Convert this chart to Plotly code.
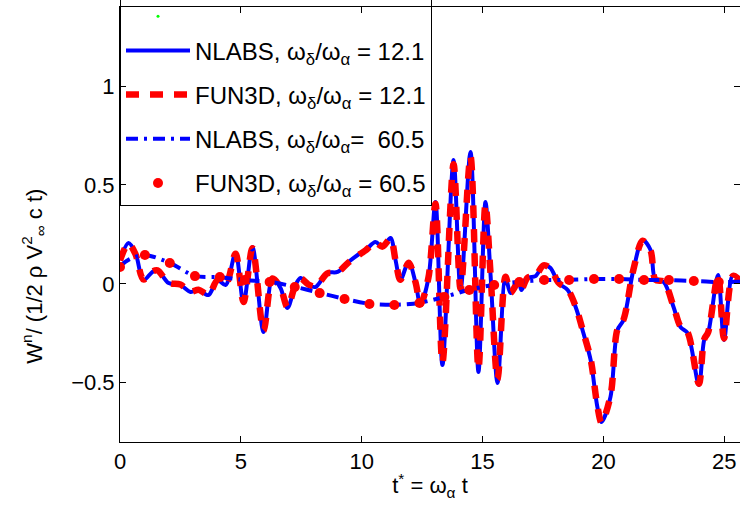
import plotly.graph_objects as go

# Normalised work per cycle vs reduced time, two flap-frequency cases
t_121 = [0.0, 0.35, 0.64, 0.97, 1.34, 1.55, 2.01, 2.50, 2.92, 3.25,
         3.66, 4.03, 4.37, 4.78, 5.11, 5.48, 5.94, 6.31, 6.64, 6.93,
         7.26, 7.47, 7.80, 8.09, 8.58, 9.00, 9.45, 9.95, 10.16, 10.57,
         10.86, 11.19, 11.40, 11.60, 11.94, 12.23, 12.43, 12.76, 13.05, 13.34,
         13.80, 14.09, 14.50, 14.83, 15.12, 15.33, 15.62, 15.95, 16.16, 16.49,
         16.61, 16.86, 17.19, 17.52, 17.81, 18.14, 18.52, 18.85, 19.17, 19.47,
         19.75, 19.92, 20.29, 20.58, 20.83, 21.24, 21.62, 21.95, 22.15, 22.49,
         22.90, 23.19, 23.48, 23.95, 24.17, 24.33, 24.74, 24.99, 25.36, 25.70]

w_nlabs_121 = [0.120, 0.206, 0.156, 0.019, 0.060, 0.070, 0.004, -0.006, -0.041, -0.031,
               -0.057, 0.019, -0.006, 0.156, -0.097, 0.186, -0.244, 0.029, -0.021, -0.122,
               -0.006, 0.029, -0.006, -0.016, 0.055, 0.060, 0.110, 0.156, 0.171, 0.211,
               0.186, 0.232, 0.120, 0.019, 0.110, 0.004, -0.107, 0.029, 0.414, -0.411,
               0.626, -0.031, 0.667, -0.446, 0.414, 0.045, -0.502, 0.034, -0.047, 0.009,
               -0.031, 0.029, 0.039, 0.095, 0.080, 0.004, -0.031, -0.117, -0.249, -0.385,
               -0.623, -0.699, -0.573, -0.234, -0.183, 0.070, 0.222, 0.171, 0.019, 0.009,
               -0.117, -0.219, -0.249, -0.512, -0.284, -0.249, 0.045, -0.284, 0.045, 0.009]

w_fun3d_121 = [0.118, 0.204, 0.150, 0.022, 0.062, 0.068, 0.006, -0.004, -0.040, -0.030,
               -0.055, 0.017, -0.004, 0.152, -0.092, 0.180, -0.236, 0.027, -0.019, -0.118,
               -0.004, 0.027, -0.004, -0.014, 0.053, 0.058, 0.108, 0.152, 0.169, 0.208,
               0.188, 0.228, 0.118, 0.021, 0.106, 0.006, -0.102, 0.031, 0.405, -0.398,
               0.605, -0.025, 0.645, -0.430, 0.402, 0.048, -0.482, 0.036, -0.044, 0.011,
               -0.028, 0.031, 0.041, 0.093, 0.078, 0.006, -0.029, -0.114, -0.246, -0.380,
               -0.618, -0.702, -0.568, -0.230, -0.181, 0.072, 0.218, 0.168, 0.021, 0.011,
               -0.114, -0.216, -0.246, -0.505, -0.280, -0.246, 0.042, -0.276, 0.040, 0.010]

t_605_nlabs = [0.0, 0.40, 1.03, 2.06, 3.10, 4.13, 5.16, 6.19, 7.23, 8.26,
               9.29, 10.32, 11.35, 12.39, 13.42, 14.45, 15.48, 16.52, 17.55, 18.58,
               19.61, 20.65, 21.68, 22.71, 23.74, 24.77, 25.70]
w_nlabs_605 = [0.090, 0.125, 0.146, 0.106, 0.040, 0.034, 0.019, 0.010, -0.015, -0.046,
               -0.076, -0.101, -0.106, -0.096, -0.066, -0.030, -0.005, 0.010, 0.019, 0.020,
               0.024, 0.024, 0.020, 0.019, 0.014, 0.009, 0.010]

t_605_fun3d = [0.0, 1.03, 2.06, 3.10, 4.13, 5.16, 6.19, 7.23, 8.26, 9.29,
               10.32, 11.35, 12.39, 13.42, 14.45, 15.48, 16.52, 17.55, 18.58, 19.61,
               20.65, 21.68, 22.71, 23.74, 24.77]
w_fun3d_605 = [0.085, 0.146, 0.105, 0.039, 0.034, 0.019, 0.009, -0.016, -0.047, -0.077,
               -0.102, -0.107, -0.097, -0.067, -0.031, -0.006, 0.009, 0.019, 0.019, 0.024,
               0.024, 0.019, 0.019, 0.014, 0.009]

x_ticks = [0, 5, 10, 15, 20, 25]
y_ticks = [-0.5, 0, 0.5, 1]

FONT = "Liberation Sans, Arial, sans-serif"
ratio = "ω<sub>δ</sub>/ω<sub>α</sub>"

fig = go.Figure()

# blank first legend row (tiny green marker, no label)
fig.add_trace(go.Scatter(
    x=[None], y=[None], mode="markers", name=" ",
    marker=dict(color="#00ff00", size=3), legendgroup="g1"))

fig.add_trace(go.Scatter(
    x=t_121, y=w_nlabs_121, mode="lines", name=f"NLABS, {ratio} = 12.1",
    line=dict(color="#0000ff", width=4, shape="spline", smoothing=0.9),
    legendgroup="g1"))

fig.add_trace(go.Scatter(
    x=t_121, y=w_fun3d_121, mode="lines", name=f"FUN3D, {ratio} = 12.1",
    line=dict(color="#ff0000", width=6.5, dash="13px,11px", shape="spline", smoothing=0.9),
    legendgroup="g2"))

fig.add_trace(go.Scatter(
    x=t_605_nlabs, y=w_nlabs_605, mode="lines", name=f"NLABS, {ratio}=\u00a0 60.5",
    line=dict(color="#0000ff", width=4, dash="12px,6px,3px,6px", shape="spline", smoothing=0.8),
    legendgroup="g3"))

fig.add_trace(go.Scatter(
    x=t_605_fun3d, y=w_fun3d_605, mode="markers", name=f"FUN3D, {ratio} = 60.5",
    marker=dict(color="#ff0000", size=10), legendgroup="g4"))

axis_common = dict(
    showgrid=False, zeroline=False, showline=True, linecolor="black", linewidth=1,
    mirror="ticks", ticks="inside", ticklen=6, tickcolor="black",
    tickfont=dict(family=FONT, size=22, color="black"),
)

fig.update_xaxes(
    range=[0, 25.65], tickvals=x_ticks, ticktext=[str(v) for v in x_ticks],
    title=dict(text="t<sup>*</sup> = ω<sub>α</sub> t", font=dict(family=FONT, size=22, color="black"),
               standoff=4),
    **axis_common)

fig.update_yaxes(
    range=[-0.8, 1.4], tickvals=y_ticks, ticktext=["−0.5", "0", "0.5", "1"],
    **axis_common)

# y-axis label, set a little below the axis midpoint
fig.add_annotation(
    text="W<sup>n</sup>/ (1/2 ρ V<sup>2</sup><sub>∞</sub> c t)",
    xref="paper", yref="paper", x=0, y=0.38, xshift=-86,
    xanchor="center", yanchor="middle", textangle=-90, showarrow=False,
    font=dict(family=FONT, size=22, color="black"))

fig.update_layout(
    width=740, height=511,
    margin=dict(l=120, r=0, t=7, b=69, autoexpand=False),
    paper_bgcolor="white", plot_bgcolor="white",
    showlegend=True,
    legend=dict(
        x=0, y=1.032, xanchor="left", yanchor="top",
        bgcolor="rgba(255,255,255,0)", bordercolor="black", borderwidth=1,
        font=dict(family=FONT, size=24, color="black"),
        tracegroupgap=10, itemwidth=64,
    ),
)

fig.write_html("out.html")
